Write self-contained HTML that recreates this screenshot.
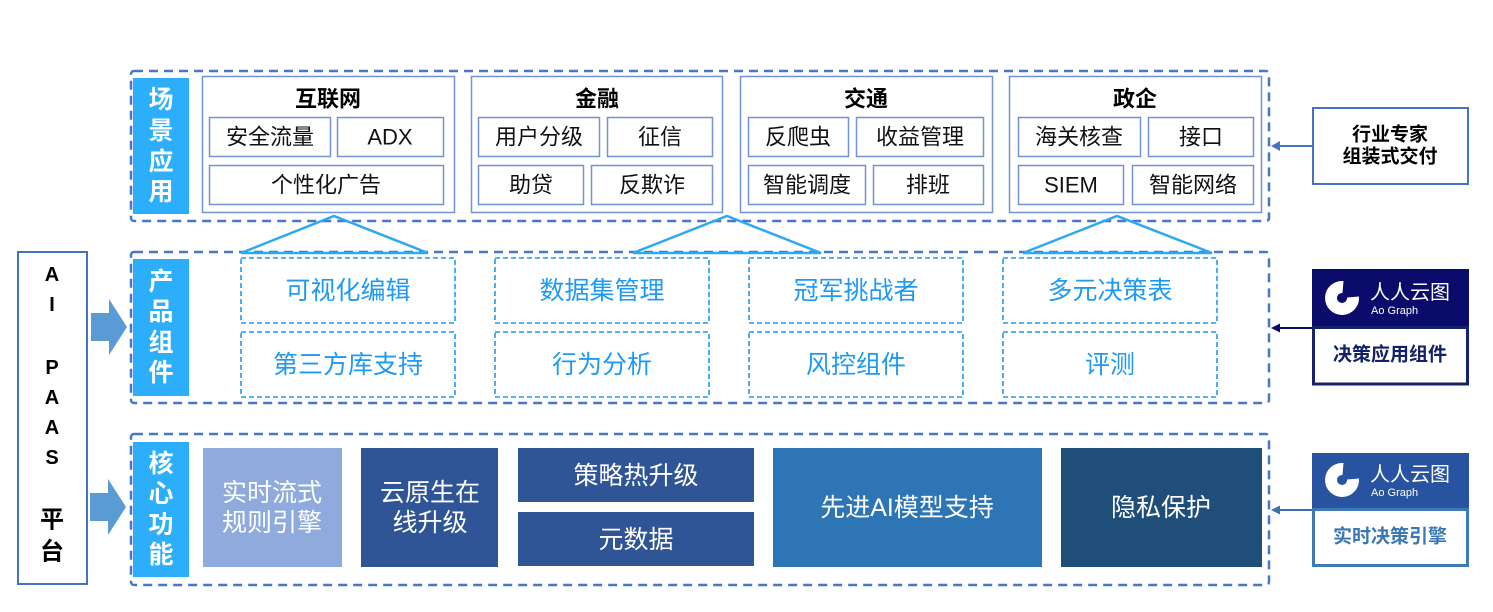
<!DOCTYPE html>
<html>
<head>
<meta charset="utf-8">
<style>
html,body{margin:0;padding:0;background:#fff;}
body{width:1493px;height:612px;overflow:hidden;}
svg{display:block;}
text{font-family:"Liberation Sans","Noto Sans CJK SC",sans-serif;}
</style>
</head>
<body>
<svg width="1493" height="612" viewBox="0 0 1493 612" xmlns="http://www.w3.org/2000/svg">
  <rect x="0" y="0" width="1493" height="612" fill="#fff"/>

  <!-- Outer dashed section boxes -->
  <g fill="none" stroke="#4a76c8" stroke-width="2.5" stroke-dasharray="9 6">
    <rect x="131" y="71" width="1138" height="150" rx="3"/>
    <rect x="131" y="252" width="1138" height="151" rx="3"/>
    <rect x="131" y="434" width="1138" height="151" rx="3"/>
  </g>

  <!-- Section labels -->
  <g fill="#2caefa">
    <rect x="133" y="78" width="56" height="136"/>
    <rect x="133" y="259" width="56" height="137"/>
    <rect x="133" y="442" width="56" height="135"/>
  </g>
  <g fill="#fff" font-size="25" font-weight="bold" text-anchor="middle" dominant-baseline="central">
    <text x="161" y="100">场</text>
    <text x="161" y="131">景</text>
    <text x="161" y="162">应</text>
    <text x="161" y="192">用</text>
    <text x="161" y="282">产</text>
    <text x="161" y="312">品</text>
    <text x="161" y="343">组</text>
    <text x="161" y="373">件</text>
    <text x="161" y="464">核</text>
    <text x="161" y="494">心</text>
    <text x="161" y="525">功</text>
    <text x="161" y="555">能</text>
  </g>

  <!-- Category boxes -->
  <g fill="none" stroke="#7393d2" stroke-width="1.5">
    <rect x="202.5" y="76.5" width="252" height="136"/>
    <rect x="471.5" y="76.5" width="251" height="136"/>
    <rect x="740.5" y="76.5" width="252" height="136"/>
    <rect x="1009.5" y="76.5" width="252" height="136"/>
    <!-- 互联网 -->
    <rect x="209.5" y="117.5" width="121" height="39"/>
    <rect x="337.5" y="117.5" width="106" height="39"/>
    <rect x="209.5" y="165.5" width="234" height="39"/>
    <!-- 金融 -->
    <rect x="478.5" y="117.5" width="121" height="39"/>
    <rect x="607.5" y="117.5" width="105" height="39"/>
    <rect x="478.5" y="165.5" width="105" height="39"/>
    <rect x="591.5" y="165.5" width="121" height="39"/>
    <!-- 交通 -->
    <rect x="748.5" y="117.5" width="100" height="39"/>
    <rect x="856.5" y="117.5" width="127" height="39"/>
    <rect x="748.5" y="165.5" width="117" height="39"/>
    <rect x="873.5" y="165.5" width="110" height="39"/>
    <!-- 政企 -->
    <rect x="1018.5" y="117.5" width="122" height="39"/>
    <rect x="1148.5" y="117.5" width="105" height="39"/>
    <rect x="1018.5" y="165.5" width="105" height="39"/>
    <rect x="1132.5" y="165.5" width="121" height="39"/>
  </g>
  <g fill="#000" font-size="22" font-weight="bold" text-anchor="middle" dominant-baseline="central">
    <text x="328" y="99">互联网</text>
    <text x="597" y="99">金融</text>
    <text x="866" y="99">交通</text>
    <text x="1135" y="99">政企</text>
  </g>
  <g fill="#111" font-size="22" text-anchor="middle" dominant-baseline="central">
    <text x="270" y="137">安全流量</text>
    <text x="390" y="137">ADX</text>
    <text x="326" y="185">个性化广告</text>
    <text x="539" y="137">用户分级</text>
    <text x="660" y="137">征信</text>
    <text x="531" y="185">助贷</text>
    <text x="652" y="185">反欺诈</text>
    <text x="798" y="137">反爬虫</text>
    <text x="920" y="137">收益管理</text>
    <text x="807" y="185">智能调度</text>
    <text x="928" y="185">排班</text>
    <text x="1079" y="137">海关核查</text>
    <text x="1201" y="137">接口</text>
    <text x="1071" y="185">SIEM</text>
    <text x="1193" y="185">智能网络</text>
  </g>

  <!-- Triangles -->
  <g fill="none" stroke="#2fa8f2" stroke-width="2.5" stroke-linejoin="miter">
    <polygon points="241,253 334,216 428,253"/>
    <polygon points="633,253 727,216 821,253"/>
    <polygon points="1023,253 1117,216 1212,253"/>
  </g>

  <!-- Component dashed boxes -->
  <g fill="none" stroke="#1f9af2" stroke-width="1.6" stroke-dasharray="5 3">
    <rect x="241" y="258" width="214" height="65"/>
    <rect x="241" y="332" width="214" height="65"/>
    <rect x="495" y="258" width="214" height="65"/>
    <rect x="495" y="332" width="214" height="65"/>
    <rect x="749" y="258" width="214" height="65"/>
    <rect x="749" y="332" width="214" height="65"/>
    <rect x="1003" y="258" width="214" height="65"/>
    <rect x="1003" y="332" width="214" height="65"/>
  </g>
  <g fill="#1f9af2" font-size="25" text-anchor="middle" dominant-baseline="central">
    <text x="348" y="291">可视化编辑</text>
    <text x="348" y="365">第三方库支持</text>
    <text x="602" y="291">数据集管理</text>
    <text x="602" y="365">行为分析</text>
    <text x="856" y="291">冠军挑战者</text>
    <text x="856" y="365">风控组件</text>
    <text x="1110" y="291">多元决策表</text>
    <text x="1110" y="365">评测</text>
  </g>

  <!-- Core function boxes -->
  <rect x="203" y="448" width="139" height="119" fill="#8faadc"/>
  <rect x="361" y="448" width="137" height="119" fill="#2f5597"/>
  <rect x="518" y="448" width="236" height="54" fill="#2f5597"/>
  <rect x="518" y="512" width="236" height="54" fill="#2f5597"/>
  <rect x="773" y="448" width="269" height="119" fill="#2e75b6"/>
  <rect x="1061" y="448" width="201" height="119" fill="#1f4e79"/>
  <g fill="#fff" font-size="25" text-anchor="middle" dominant-baseline="central">
    <text x="272" y="493">实时流式</text>
    <text x="272" y="523">规则引擎</text>
    <text x="430" y="493">云原生在</text>
    <text x="430" y="523">线升级</text>
    <text x="636" y="476">策略热升级</text>
    <text x="636" y="540">元数据</text>
    <text x="907" y="508">先进AI模型支持</text>
    <text x="1161" y="508">隐私保护</text>
  </g>

  <!-- AI PAAS platform -->
  <rect x="18" y="252" width="69" height="332" fill="none" stroke="#4472c4" stroke-width="2"/>
  <g fill="#000" font-size="20" font-weight="bold" text-anchor="middle" dominant-baseline="central">
    <text x="52" y="275">A</text>
    <text x="52" y="305">I</text>
    <text x="52" y="368">P</text>
    <text x="52" y="398">A</text>
    <text x="52" y="428">A</text>
    <text x="52" y="458">S</text>
  </g>
  <g fill="#000" font-size="24" font-weight="bold" text-anchor="middle" dominant-baseline="central">
    <text x="52" y="520">平</text>
    <text x="52" y="552">台</text>
  </g>

  <!-- Block arrows -->
  <polygon points="91,313 109,313 109,299 127,327 109,355 109,341 91,341" fill="#5b9bd5"/>
  <polygon points="90,493 108,493 108,479 126,507 108,535 108,521 90,521" fill="#5b9bd5"/>

  <!-- Right: 行业专家 -->
  <rect x="1313" y="108" width="155" height="76" fill="#fff" stroke="#4472c4" stroke-width="2"/>
  <g fill="#000" font-size="19" font-weight="bold" text-anchor="middle" dominant-baseline="central">
    <text x="1390" y="135">行业专家</text>
    <text x="1390" y="157">组装式交付</text>
  </g>
  <line x1="1312" y1="146" x2="1278" y2="146" stroke="#4472c4" stroke-width="2"/>
  <polygon points="1271,146 1280,141 1280,151" fill="#4472c4"/>

  <!-- Right: logo 1 -->
  <rect x="1312" y="269" width="157" height="58" fill="#0b0b6c"/>
  <rect x="1313.5" y="327.5" width="154" height="56.5" fill="#fff" stroke="#14236b" stroke-width="3"/>
  <text x="1390" y="355" fill="#14206a" font-size="19" font-weight="bold" text-anchor="middle" dominant-baseline="central">决策应用组件</text>
  <line x1="1312" y1="328" x2="1278" y2="328" stroke="#0b0b6c" stroke-width="2"/>
  <polygon points="1271,328 1280,323.5 1280,332.5" fill="#0b0b6c"/>

  <!-- Right: logo 2 -->
  <rect x="1312" y="453" width="157" height="55" fill="#2753a0"/>
  <rect x="1313.5" y="509.5" width="154" height="56" fill="#fff" stroke="#3d7ab5" stroke-width="3"/>
  <text x="1390" y="537" fill="#3a78b5" font-size="19" font-weight="bold" text-anchor="middle" dominant-baseline="central">实时决策引擎</text>
  <line x1="1312" y1="510" x2="1278" y2="510" stroke="#3b6fb0" stroke-width="2"/>
  <polygon points="1271,510 1280,505.5 1280,514.5" fill="#3b6fb0"/>

  <!-- Logo icons (ring with notch at top-right) -->
  <g fill="none" stroke="#fff" stroke-width="12" stroke-linecap="butt">
    <path d="M 1353 297 A 11 11 0 1 1 1343 287"/>
    <path d="M 1353 479 A 11 11 0 1 1 1343 469"/>
  </g>
  <g fill="#fff" text-anchor="start">
    <text x="1370" y="299" font-size="20">人人云图</text>
    <text x="1371" y="314" font-size="11">Ao Graph</text>
    <text x="1370" y="481" font-size="20">人人云图</text>
    <text x="1371" y="496" font-size="11">Ao Graph</text>
  </g>
</svg>
</body>
</html>
